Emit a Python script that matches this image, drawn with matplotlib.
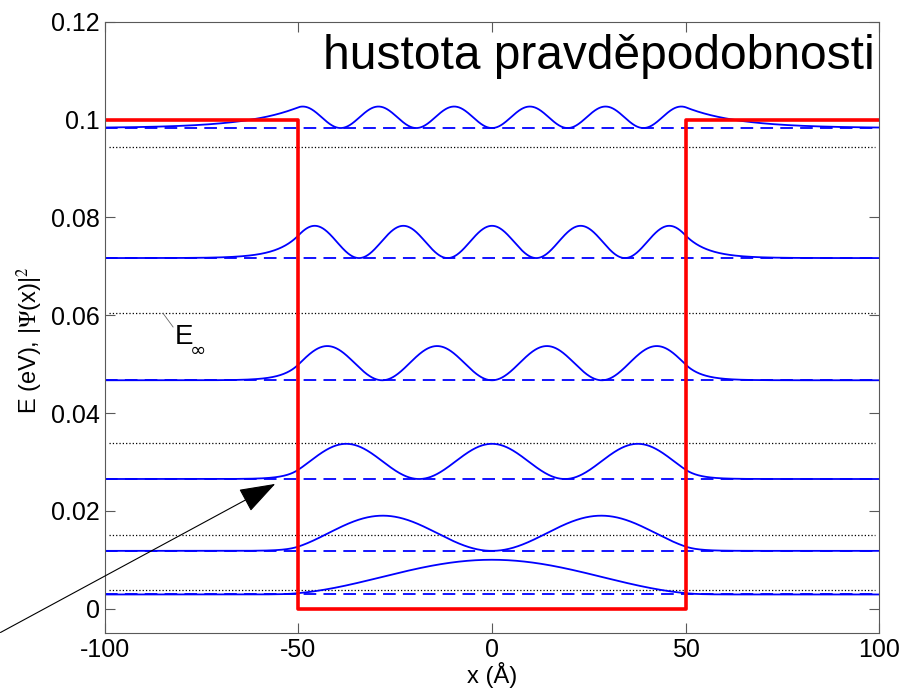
import numpy as np
import matplotlib
matplotlib.use("Agg")
import matplotlib.pyplot as plt

plt.rcParams['font.family'] = ['Liberation Sans', 'DejaVu Sans']
plt.rcParams['mathtext.fontset'] = 'stix'
plt.rcParams['axes.unicode_minus'] = False

# well
WELL_HALF = 50.0      # Angstrom
V0 = 0.1              # eV
HB2M = 3.81           # hbar^2/2m_e in eV*A^2

# bound state energies (dashed lines), eV
levels = [0.00288, 0.0118, 0.0265, 0.0467, 0.0717, 0.0983]
# peak height of the density above each level
peaks = [0.0071, 0.0072, 0.0072, 0.0070, 0.0066, 0.0044]
# decay of the tail outside the well, 1/A (None -> from V0 - E)
tail_kappa = [None, None, None, None, None, 0.037]
# infinite well energies (dotted lines)
e_inf = [0.00377, 0.0151, 0.0339, 0.0604, 0.0944]

pot_x = [-100, -50, -50, 50, 50, 100]
pot_y = [0.1, 0.1, 0.0, 0.0, 0.1, 0.1]

x = np.linspace(-100, 100, 2001)


def density(n, E, kap):
    k = np.sqrt(E / HB2M)
    if kap is None:
        kap = np.sqrt((V0 - E) / HB2M)
    if n % 2 == 1:
        inside = np.cos(k * x) ** 2
        edge = np.cos(k * WELL_HALF) ** 2
    else:
        inside = np.sin(k * x) ** 2
        edge = np.sin(k * WELL_HALF) ** 2
    outside = edge * np.exp(-2 * kap * (np.abs(x) - WELL_HALF))
    d = np.where(np.abs(x) <= WELL_HALF, inside, outside)
    return d / d.max()


fig = plt.figure(figsize=(9.01, 6.93), dpi=100)
ax = fig.add_axes([0.1165, 0.0866, 0.8591, 0.8817])

for e in e_inf:
    ax.plot([-99, 99], [e, e], ':', color='k', lw=0.9)
for i, (E, p) in enumerate(zip(levels, peaks)):
    ax.plot([-100, 100], [E, E], '--', color='b', lw=1.3, dashes=(7, 4))
    ax.plot(x, E + p * density(i + 1, E, tail_kappa[i]), '-', color='b', lw=1.3)

ax.plot(pot_x, pot_y, '-', color='r', lw=2.6)

ax.text(99, 0.1103, 'hustota pravděpodobnosti', ha='right', va='baseline', fontsize=34.5)

# E_inf label
ax.plot([-85, -82.4], [0.0604, 0.0576], '-', color='0.4', lw=0.6)
ax.text(-82, 0.0582, 'E', ha='left', va='top', fontsize=20)
ax.text(-78, 0.0548, '∞', ha='left', va='top', fontsize=14, family=['DejaVu Sans'])

ax.annotate('', xy=(-56, 0.0255), xytext=(-127, -0.0049),
            arrowprops=dict(arrowstyle='-|>,head_length=2.3,head_width=0.8',
                            mutation_scale=10, lw=0.8, color='k',
                            shrinkA=0, shrinkB=0),
            annotation_clip=False)

ax.set_xlim(-100, 100)
ax.set_ylim(-0.005, 0.12)
ax.set_xticks([-100, -50, 0, 50, 100])
ax.set_yticks([0, 0.02, 0.04, 0.06, 0.08, 0.1, 0.12])
ax.set_yticklabels(['0', '0.02', '0.04', '0.06', '0.08', '0.1', '0.12'])
ax.tick_params(direction='in', length=7, width=0.8, top=True, right=True,
               labelsize=18, color='0.35')
for s in ax.spines.values():
    s.set_color('0.35')
    s.set_linewidth(0.8)
ax.set_xlabel('x (Å)', fontsize=17, labelpad=0)
ax.set_ylabel(r'E (eV), |$\Psi$(x)|$^2$', fontsize=17)
ax.yaxis.set_label_coords(-0.078, 0.48)

fig.savefig('out.png', dpi=100)
